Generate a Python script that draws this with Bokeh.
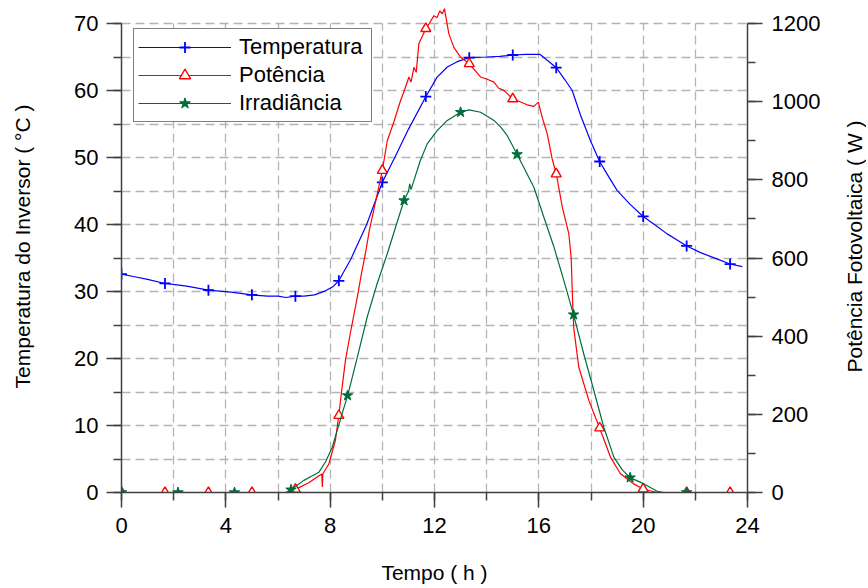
import math
from bokeh.plotting import figure
from bokeh.layouts import row
from bokeh.models import (Range1d, LinearAxis, SingleIntervalTicker, FixedTicker,
                          Legend, LegendItem)
from bokeh.embed import file_html
from bokeh.resources import INLINE

# ---------------- data ----------------
# Temperature of the inverter (deg C) vs time (h)
temp_t = [0.0, 0.5, 1.0, 1.67, 2.5, 3.33, 4.2, 5.0, 5.6, 6.0,
          6.3, 6.67, 7.0, 7.4, 7.82, 8.1, 8.33, 8.8, 9.4, 10.0,
          10.5, 11.0, 11.67, 12.1, 12.49, 12.87, 13.33, 14.0, 14.5, 15.0,
          15.5, 16.04, 16.3, 16.67, 17.0, 17.28, 17.6, 17.98, 18.33, 18.7,
          19.0, 19.5, 20.0, 20.5, 20.92, 21.3, 21.67, 22.2, 22.8, 23.33,
          23.8]
temp_v = [32.6, 32.2, 31.8, 31.2, 30.8, 30.2, 29.9, 29.5, 29.3, 29.3,
          29.1, 29.3, 29.3, 29.5, 30.1, 30.7, 31.6, 34.9, 40.0, 46.3,
          50.2, 54.2, 59.1, 62.0, 63.5, 64.3, 64.9, 65.0, 65.1, 65.3,
          65.4, 65.4, 64.6, 63.4, 61.6, 60.0, 56.3, 52.5, 49.4, 47.0,
          45.1, 43.0, 41.2, 39.8, 38.6, 37.7, 36.8, 35.8, 34.9, 34.1,
          33.7]

# PV power (W) vs time (h)
pot_t = [0.0, 6.35, 6.67, 7.18, 7.57, 7.68, 7.70, 7.72, 7.95, 8.2,
         8.33, 8.45, 8.59, 8.78, 9.04, 9.2, 9.36, 9.5, 9.68, 10.0,
         10.19, 10.45, 10.7, 10.85, 11.02, 11.1, 11.21, 11.3, 11.4, 11.67,
         11.8, 11.98, 12.1, 12.2, 12.3, 12.38, 12.55, 12.74, 13.0, 13.33,
         13.55, 13.77, 14.0, 14.28, 14.45, 14.66, 15.0, 15.3, 15.55, 15.81,
         15.98, 16.13, 16.32, 16.51, 16.67, 16.9, 17.15, 17.24, 17.3, 17.34,
         17.53, 17.92, 18.33, 18.75, 19.13, 19.64, 20.0, 20.54, 23.85]
pot_v = [0, 0, 8, 25, 43, 47, 14, 48, 73, 133,
         197, 265, 340, 410, 500, 560, 615, 670, 725, 824,
         900, 950, 1003, 1030, 1063, 1050, 1088, 1075, 1148, 1187,
         1200, 1220, 1215, 1232, 1225, 1238, 1174, 1139, 1114, 1097,
         1080, 1063, 1058, 1050, 1035, 1029, 1007, 999, 992, 988,
         999, 960, 918, 854, 815, 730, 662, 600, 480, 420,
         321, 235, 165, 90, 48, 22, 9, 0, 0]

# Irradiance (plotted on the power scale) vs time (h)
irr_t = [0.0, 6.3, 6.5, 6.99, 7.3, 7.57, 7.82, 8.08, 8.27, 8.45,
         8.67, 9.04, 9.42, 9.8, 10.19, 10.57, 10.83, 11.0, 11.05, 11.1,
         11.21, 11.46, 11.72, 12.1, 12.49, 13.0, 13.32, 13.77, 14.28, 14.54,
         14.79, 15.17, 15.81, 16.19, 16.58, 16.96, 17.33, 17.72, 18.11, 18.49,
         18.88, 19.2, 19.5, 20.03, 20.54, 20.8, 23.85]
irr_v = [0, 0, 7, 31, 42, 52, 78, 116, 159, 200,
         248, 346, 449, 534, 611, 692, 747, 770, 790, 775,
         798, 850, 892, 926, 952, 973, 979, 973, 952, 935,
         913, 865, 781, 705, 628, 542, 455, 355, 261, 167,
         90, 58, 38, 22, 3, 0, 0]

# symbol positions
mk_t = [0, 1.667, 3.333, 5.0, 6.667, 8.333, 10.0, 11.667, 13.333, 15.0,
        16.667, 18.333, 20.0, 21.667, 23.333]
temp_mk = [32.6, 31.2, 30.2, 29.5, 29.3, 31.6, 46.3, 59.1, 64.9, 65.3,
           63.4, 49.4, 41.2, 36.8, 34.1]
pot_mk = [0, 0, 0, 0, 8, 197, 824, 1187, 1097, 1007, 815, 165, 9, 0, 0]
irr_mk_t = [0, 2.167, 4.333, 6.5, 8.667, 10.833, 13.0, 15.167, 17.333, 19.5, 21.667]
irr_mk = [0, 0, 0, 7, 248, 747, 973, 865, 455, 38, 0]

series_names = ["Temperatura", "Potência", "Irradiância"]
x_label = "Tempo ( h )"
yl_label = "Temperatura do Inversor ( °C )"
yr_label = "Potência Fotovoltaica ( W )"

# ---------------- layout ----------------
W_TOTAL, H = 866, 586
W = 824                                 # main figure width
FL, FR, FT, FB = 121, 747, 0, 492      # frame edges in figure px
px_deg = 469.0 / 70.0
y1 = (FB - FT) / px_deg
K = 1200.0 / 70.0

FONT = "Liberation Sans"
AX = "#404040"
BLUE, RED, GREEN = "#0000ff", "#ff0000", "#006e3a"

p = figure(width=W, height=H, output_backend="svg", toolbar_location=None,
           x_range=Range1d(0, 24), y_range=Range1d(0, y1),
           min_border_left=FL, min_border_right=W - FR,
           min_border_top=FT, min_border_bottom=H - FB)
p.outline_line_color = None
p.background_fill_color = "white"
p.border_fill_color = "white"

p.extra_y_ranges = {"pw": Range1d(0, y1 * K)}


def style_axis(ax, label, standoff):
    ax.axis_line_color = AX
    ax.axis_line_width = 1.5
    ax.major_tick_line_color = AX
    ax.major_tick_line_width = 1.5
    ax.minor_tick_line_color = AX
    ax.minor_tick_line_width = 1.5
    ax.major_tick_out = 15
    ax.major_tick_in = 0
    ax.minor_tick_out = 8
    ax.minor_tick_in = 0
    ax.major_label_text_font = FONT
    ax.major_label_text_font_size = "22px"
    ax.major_label_text_color = "black"
    if label:
        ax.axis_label = label
    ax.axis_label_text_font = FONT
    ax.axis_label_text_font_size = "21px"
    ax.axis_label_text_font_style = "normal"
    ax.axis_label_text_color = "black"
    ax.axis_label_standoff = standoff


xa = p.xaxis[0]
xa.ticker = SingleIntervalTicker(interval=4, num_minor_ticks=2)
xa.bounds = (0, 24)
style_axis(xa, x_label, 25)
xa.major_label_standoff = 10

ya = p.yaxis[0]
ya.ticker = SingleIntervalTicker(interval=10, num_minor_ticks=2)
ya.bounds = (0, 70)
style_axis(ya, yl_label, 37)
ya.major_label_standoff = 8

ra = LinearAxis(y_range_name="pw",
                ticker=SingleIntervalTicker(interval=200, num_minor_ticks=2),
                bounds=(0, 1200))
style_axis(ra, None, 0)
ra.major_label_standoff = 9
p.add_layout(ra, "right")

for g, iv in ((p.xgrid[0], 2), (p.ygrid[0], 5)):
    g.ticker = SingleIntervalTicker(interval=iv)
    g.grid_line_color = "#b4b4b4"
    g.grid_line_width = 1.3
    g.grid_line_dash = "9 5"
p.xgrid[0].bounds = (0, 24)
p.xgrid[0].cross_bounds = (0, 70)
p.ygrid[0].bounds = (0, 75)
p.ygrid[0].cross_bounds = (0, 24)

# ---------------- series ----------------
bl = p.line(temp_t, temp_v, line_color=BLUE, line_width=1.2)
bs = p.scatter(mk_t, temp_mk, marker="cross", size=11, line_color=BLUE, line_width=1.8)
rl = p.line(pot_t, pot_v, y_range_name="pw", line_color=RED, line_width=1.2)
rs = p.scatter(mk_t, pot_mk, y_range_name="pw", marker="triangle", size=10,
               line_color=RED, fill_color="white", line_width=1.4)
gl = p.line(irr_t, irr_v, y_range_name="pw", line_color=GREEN, line_width=1.2)
gs = p.scatter(irr_mk_t, irr_mk, y_range_name="pw", marker="star", size=11,
               line_color=GREEN, fill_color=GREEN, line_width=1.0)

legend = Legend(items=[LegendItem(label=series_names[0], renderers=[bl, bs]),
                       LegendItem(label=series_names[1], renderers=[rl, rs]),
                       LegendItem(label=series_names[2], renderers=[gl, gs])],
                location=(12, FB - 122), orientation="vertical",
                glyph_width=93, glyph_height=28, label_height=26,
                label_width=128,
                label_standoff=8, padding=4, spacing=0, margin=0,
                label_text_font=FONT, label_text_font_size="22px",
                label_text_color="black",
                border_line_color="black", border_line_width=1,
                background_fill_color="white", background_fill_alpha=1.0)
p.add_layout(legend)

# ---------------- narrow strip that carries the right-hand axis title ----------------
W2 = W_TOTAL - W
p2 = figure(width=W2, height=H, output_backend="svg", toolbar_location=None,
            x_range=Range1d(0, 1), y_range=Range1d(0, 1),
            min_border_left=W2 - 1, min_border_right=0,
            min_border_top=0, min_border_bottom=76)
p2.outline_line_color = None
p2.background_fill_color = "white"
p2.border_fill_color = "white"
p2.grid.visible = False
p2.xaxis.visible = False
a2 = p2.yaxis[0]
a2.ticker = FixedTicker(ticks=[])
a2.axis_line_color = None
a2.major_tick_line_color = None
a2.minor_tick_line_color = None
a2.major_tick_out = 0
a2.minor_tick_out = 0
a2.axis_label = yr_label
a2.axis_label_text_font = FONT
a2.axis_label_text_font_size = "21px"
a2.axis_label_text_font_style = "normal"
a2.axis_label_text_color = "black"
a2.axis_label_standoff = 0

layout = row(p, p2, spacing=0)

open("out.html", "w").write(file_html(layout, INLINE))
